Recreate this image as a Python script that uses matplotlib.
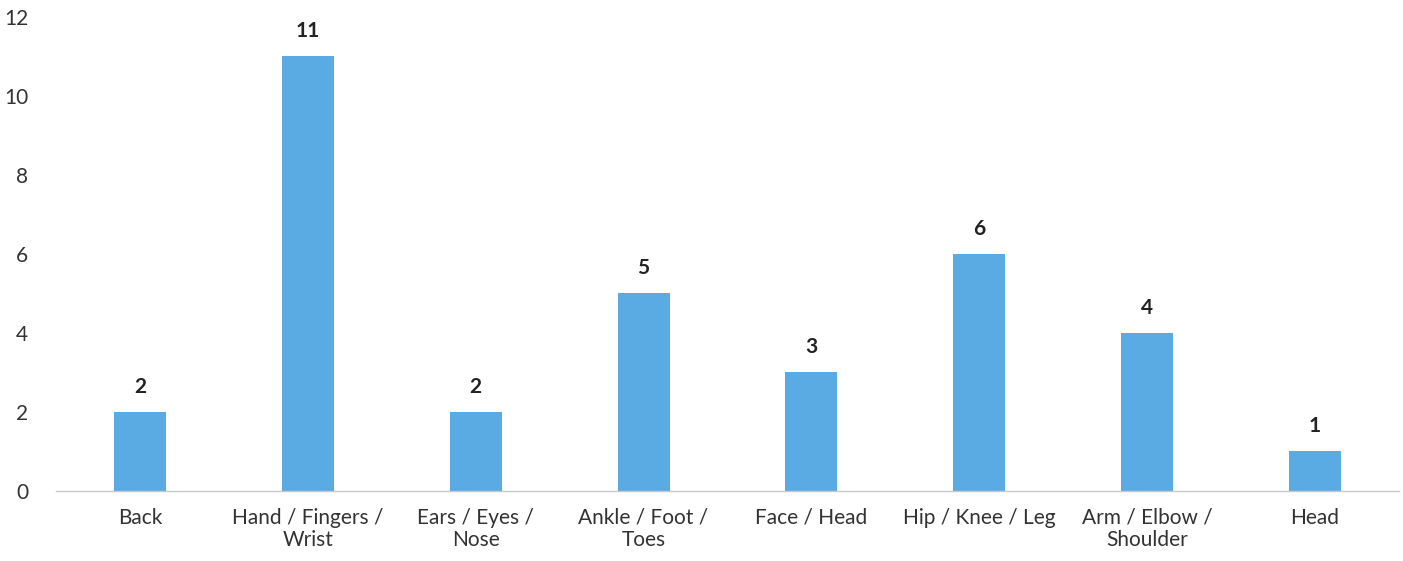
import matplotlib.pyplot as plt

categories = ["Back", "Hand / Fingers /\nWrist", "Ears / Eyes /\nNose", "Ankle / Foot /\nToes",
              "Face / Head", "Hip / Knee / Leg", "Arm / Elbow /\nShoulder", "Head"]
counts = [2, 11, 2, 5, 3, 6, 4, 1]
yticks = [0, 2, 4, 6, 8, 10, 12]

plt.rcParams['font.family'] = ['Lato', 'DejaVu Sans']

fig = plt.figure(figsize=(14.03, 5.61), dpi=100)
ax = fig.add_axes([0.04, 0.125, 0.957, 0.845])

x = range(len(categories))
bars = ax.bar(x, counts, width=0.31, color='#5aabe3', zorder=2)

# value labels above bars
for b, v in zip(bars, counts):
    ax.annotate(str(v), (b.get_x() + b.get_width() / 2, v), xytext=(0, 11),
                textcoords='offset points', ha='center', va='bottom',
                fontsize=15, fontweight='bold', color='#222222')

ax.set_xlim(-0.5, len(categories) - 0.5)
ax.set_ylim(0, 12)
ax.set_yticks(yticks)
ax.set_xticks(list(x))
ax.set_xticklabels(categories, fontsize=15, color='#333333', linespacing=1.15)
ax.tick_params(axis='y', length=0, pad=20, labelsize=15, labelcolor='#333333')
ax.tick_params(axis='x', length=0, pad=12)

for side in ['top', 'right', 'left']:
    ax.spines[side].set_visible(False)
ax.spines['bottom'].set_color('#c8c8c8')
ax.spines['bottom'].set_linewidth(1)

fig.savefig('out.png', dpi=100)
